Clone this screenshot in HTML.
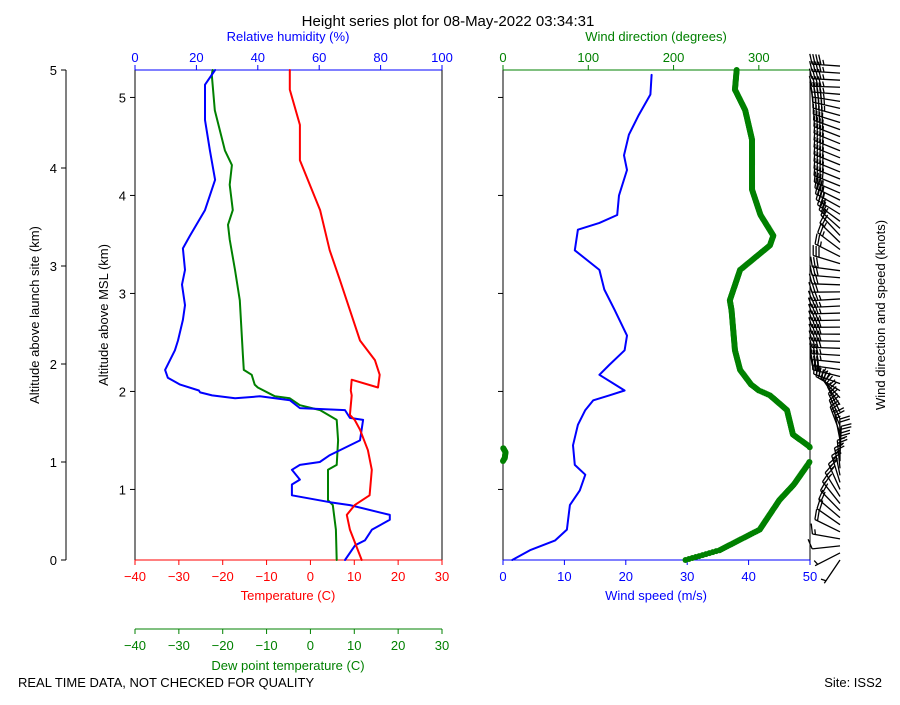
<!DOCTYPE html>
<html><head><meta charset="utf-8"><style>
body{margin:0;background:#fff}
svg text{font-family:"Liberation Sans","DejaVu Sans",sans-serif}
</style></head><body>
<svg id="c" width="900" height="700" viewBox="0 0 900 700" xmlns="http://www.w3.org/2000/svg">
<text x="448" y="26" font-size="15" text-anchor="middle">Height series plot for 08-May-2022 03:34:31</text>
<text x="18" y="687" font-size="13">REAL TIME DATA, NOT CHECKED FOR QUALITY</text>
<text x="882" y="687" font-size="13" text-anchor="end">Site: ISS2</text>
<g id="g"></g>
</svg>
<script>
// altitude above launch site (km)
const tempAlt=[0,0.31,0.46,0.56,0.66,0.92,1.12,1.33,1.43,1.48,1.68,1.73,1.84,1.76,1.89,2.04,2.24,2.55,2.86,3.16,3.57,4.08,4.44,4.8,5];
const tempVal=[11.7,9,8.3,10.1,13.5,14,13.1,11.3,10.1,9,9.4,9.2,9.4,15.4,15.8,14.7,11.3,9,6.7,4.4,2.2,-2.4,-2.4,-4.7,-4.7];
const dewAlt=[0,0.31,0.56,0.61,0.92,0.97,1.22,1.43,1.53,1.58,1.65,1.67,1.76,1.79,1.89,1.94,2.09,2.65,2.76,2.96,3.27,3.42,3.57,3.83,4.03,4.18,4.59,4.95,5];
const dewVal=[6,5.8,5.1,4,4,6,6.3,6,2.2,-2.4,-4.7,-8.1,-12,-12.7,-13.4,-15.2,-15.4,-16.1,-16.5,-17.2,-18.4,-18.8,-17.7,-18.4,-17.9,-19.5,-21.8,-22.5,-22.3];
const rhAlt=[0,0.15,0.2,0.31,0.41,0.46,0.56,0.59,0.66,0.77,0.82,0.92,0.97,1,1.07,1.22,1.43,1.45,1.53,1.55,1.63,1.67,1.65,1.68,1.71,1.73,1.79,1.86,1.94,2.14,2.24,2.45,2.6,2.81,2.96,3.18,3.31,3.57,3.88,4.18,4.49,4.85,5];
const rhVal=[68.4,71.7,74.9,77.2,83,83,70,63.5,51.1,51.1,53.7,51.1,53.7,60.2,63.5,73.3,74.3,70,68.4,53.7,50.5,40.7,32.6,25.1,21.2,20.8,14.7,10.7,9.8,13,14,15.6,16.3,15.3,16.3,15.6,17.9,22.8,26.1,24.4,22.8,22.8,26.1];
const wsAlt=[0,0.1,0.2,0.31,0.41,0.56,0.71,0.87,0.97,1.17,1.38,1.53,1.63,1.68,1.73,1.89,1.99,2.14,2.29,2.55,2.76,2.96,3.16,3.37,3.44,3.52,3.72,3.98,4.13,4.34,4.54,4.75,4.95];
const wsVal=[1.5,4.4,8.5,10.4,10.6,10.9,12.5,13.4,11.7,11.4,12.2,13.4,14.7,17.3,19.8,15.7,17.3,19.8,20.2,18.2,16.5,15.7,11.7,12.2,15.7,18.6,18.9,20.2,19.7,20.5,22.1,24,24.2];
const wdAlt=[0,0.1,0.31,0.61,0.77,0.98,1.04,1.1,1.16,1.28,1.53,1.68,1.73,1.79,1.94,2.14,2.55,2.65,2.96,3.21,3.31,3.52,3.78,4.29,4.59,4.8,5];
const wdVal=[214,254,301,324,341,358,362,363,359,340,333,313,300,291,278,272,268,266,278,313,317,302,292,292,284,272,274];
const altTicks=[0,1,2,3,4,5];
const mslTicks=[1,2,3,4,5];
const tempTicks=[-40,-30,-20,-10,0,10,20,30];
const rhTicks=[0,20,40,60,80,100];
const wsTicks=[0,10,20,30,40,50];
const wdTicks=[0,100,200,300];
const siteElev=0.28;

const NS='http://www.w3.org/2000/svg',G=document.getElementById('g');
function mk(t,a,txt){const e=document.createElementNS(NS,t);for(const k in a)e.setAttribute(k,a[k]);if(txt!==undefined)e.textContent=txt;G.appendChild(e);return e;}
const Y=a=>560-a*98;
const L0=135,L1=442,R0=503,R1=810;
const xT=v=>L0+(v+40)/70*(L1-L0);
const xRH=v=>L0+v/100*(L1-L0);
const xWS=v=>R0+v/50*(R1-R0);
const xWD=v=>R0+v/360*(R1-R0);
function line(arrA,arrV,fx,col,w,name){
  const d=arrA.map((a,i)=>(i?'L':'M')+fx(arrV[i]).toFixed(1)+','+Y(a).toFixed(1)).join('');
  const p=mk('path',{d:d,fill:'none',stroke:col,'stroke-width':w,'stroke-linejoin':'round','stroke-linecap':'round'});
  
  
}
let e;
e=mk('rect',{x:L0,y:70,width:L1-L0,height:490,fill:'none',stroke:'#000'});

e=mk('rect',{x:R0,y:70,width:R1-R0,height:490,fill:'none',stroke:'#000'});

mk('line',{x1:L0,y1:560,x2:L1,y2:560,stroke:'red'});
mk('line',{x1:L0,y1:70,x2:L1,y2:70,stroke:'blue'});
mk('line',{x1:R0,y1:560,x2:R1,y2:560,stroke:'blue'});
mk('line',{x1:R0,y1:70,x2:R1,y2:70,stroke:'green'});
mk('line',{x1:L0,y1:629,x2:L1,y2:629,stroke:'green'});
mk('line',{x1:66,y1:70,x2:66,y2:560,stroke:'#000'});
altTicks.forEach(t=>{mk('line',{x1:61,y1:Y(t),x2:66,y2:Y(t),stroke:'#000'});
 e=mk('text',{x:57,y:Y(t)+5,'font-size':13,'text-anchor':'end'},t);});
e=mk('text',{x:0,y:0,'font-size':13,'text-anchor':'middle',transform:'translate(39,315) rotate(-90)'},'Altitude above launch site (km)');

mslTicks.forEach(t=>{const y=Y(t-siteElev);mk('line',{x1:130,y1:y,x2:L0,y2:y,stroke:'#000'});
 mk('line',{x1:498,y1:y,x2:R0,y2:y,stroke:'#000'});
 e=mk('text',{x:126,y:y+5,'font-size':13,'text-anchor':'end'},t);});
e=mk('text',{x:0,y:0,'font-size':13,'text-anchor':'middle',transform:'translate(108,315) rotate(-90)'},'Altitude above MSL (km)');

function xaxis(ticks,fx,y,dir,col,name){ticks.forEach(t=>{const x=fx(t);mk('line',{x1:x,y1:y,x2:x,y2:y+dir*5,stroke:col});
 e=mk('text',{x:x,y:dir>0?y+21:y-8,'font-size':13,'text-anchor':'middle',fill:col},String(t).replace('-','\u2212'));
 });}
xaxis(tempTicks,xT,560,1,'red','temperature-tick-label');
xaxis(tempTicks,xT,629,1,'green','dewpoint-tick-label');
xaxis(rhTicks,xRH,70,-1,'blue','humidity-tick-label');
xaxis(wsTicks,xWS,560,1,'blue','wind-speed-tick-label');
xaxis(wdTicks,xWD,70,-1,'green','wind-direction-tick-label');
[['Temperature (C)',288,600,'red','temperature-axis-title'],['Dew point temperature (C)',288,670,'green','dewpoint-axis-title'],['Relative humidity (%)',288,41,'blue','humidity-axis-title'],['Wind speed (m/s)',656,600,'blue','wind-speed-axis-title'],['Wind direction (degrees)',656,41,'green','wind-direction-axis-title']].forEach(a=>{
 e=mk('text',{x:a[1],y:a[2],'font-size':13,'text-anchor':'middle',fill:a[3]},a[0]);});
e=mk('text',{x:0,y:0,'font-size':13,'text-anchor':'middle',transform:'translate(885,315) rotate(-90)'},'Wind direction and speed (knots)');

line(dewAlt,dewVal,xT,'green',2,'dewpoint-line');
line(rhAlt,rhVal,xRH,'blue',2,'humidity-line');
line(tempAlt,tempVal,xT,'red',2,'temperature-line');
line(wsAlt,wsVal,xWS,'blue',2,'wind-speed-line');
function interp(A,V,a){for(let i=1;i<A.length;i++)if(a<=A[i]){const f=(a-A[i-1])/(A[i]-A[i-1]||1);return V[i-1]+f*(V[i]-V[i-1]);}return V[V.length-1];}
for(let a=0;a<=5;a+=0.01){let d=interp(wdAlt,wdVal,a)%360;
 e=mk('circle',{cx:xWD(d),cy:Y(a),r:3,fill:'green'});}
for(let a=0;a<=5.05;a+=0.072){
 const d=interp(wdAlt,wdVal,a)*Math.PI/180,kt=interp(wsAlt,wsVal,a)*1.944;
 const bx=840,by=Y(a),L=28,ux=Math.sin(d),uy=-Math.cos(d);
 const tx=bx+ux*L,ty=by+uy*L;let p='M'+bx+','+by+'L'+tx.toFixed(1)+','+ty.toFixed(1);
 let n=Math.round(kt/5),pos=0;const px=-uy,py=ux;
 while(n>=2){const sx=tx-ux*pos,sy=ty-uy*pos;p+='M'+sx.toFixed(1)+','+sy.toFixed(1)+'l'+((px*10+ux*3)).toFixed(1)+','+((py*10+uy*3)).toFixed(1);n-=2;pos+=3;}
 if(n==1){if(pos==0)pos=3;const sx=tx-ux*pos,sy=ty-uy*pos;p+='M'+sx.toFixed(1)+','+sy.toFixed(1)+'l'+((px*5+ux*1.5)).toFixed(1)+','+((py*5+uy*1.5)).toFixed(1);}
 e=mk('path',{d:p,fill:'none',stroke:'#000','stroke-width':1.3});
 
 
}
</script>
</body></html>
